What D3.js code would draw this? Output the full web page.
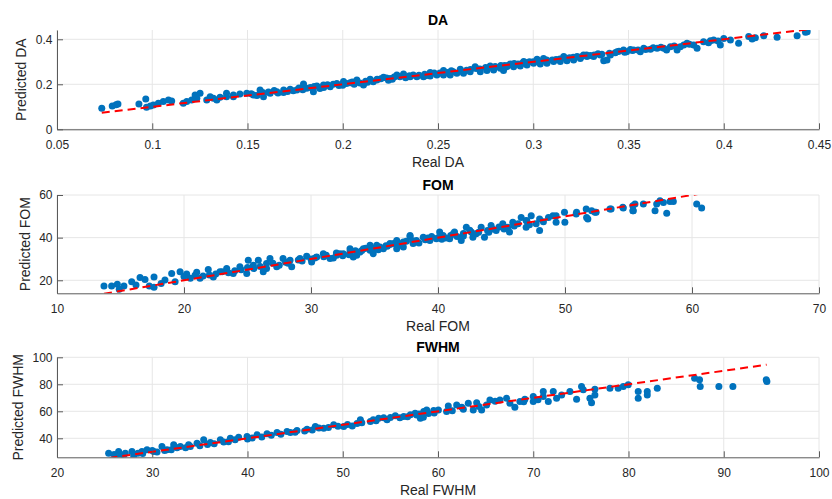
<!DOCTYPE html>
<html><head><meta charset="utf-8">
<script src="https://cdn.jsdelivr.net/npm/d3@7"></script>
<style>
body{margin:0;background:#fff}
svg text{font-family:"Liberation Sans",Arial,Helvetica,sans-serif}
</style>
</head><body>
<svg id="chart" width="832" height="499"></svg>
<script>
// ---------------- DATA ----------------
const daReal = [0.0735,0.079,0.081,0.082,0.093,0.0966,0.097,0.099,0.1006,0.1032,0.1058,0.1085,0.1102,0.1163,0.1181,0.1207,0.1225,0.1251,0.1234,0.1286,0.1304,0.1321,0.1339,0.1356,0.139,0.139,0.1426,0.1426,0.146,0.1496,
0.1531,0.1566,0.1584,0.1619,0.1654,0.1689,0.1724,0.1759,0.1794,0.1811,0.1846,0.1864,0.1899,0.1934,0.1969,0.2004,0.2039,0.2074,0.2109,0.2144,0.2179,0.2214,0.2249,0.2284,0.2319,0.2354,
0.158,0.164,0.171,0.177,0.183,0.188,0.192,0.198,0.202,0.206,0.212,0.216,0.22,0.224,0.227,0.233,0.237,
0.2389,0.2424,0.2459,0.2459,0.2494,0.2529,0.2529,0.2564,0.2599,0.2617,0.2634,0.2669,0.2695,0.2722,0.2757,0.2774,0.2792,0.2827,0.2844,0.2862,0.288,0.2897,0.2932,0.295,0.2967,0.3002,0.302,0.3037,0.3054,0.3072,0.3107,0.3142,0.316,0.3177,0.3212,0.3247,0.3264,0.3282,0.3317,0.3352,0.337,0.3387,0.3405,0.3474,0.349,0.3527,0.3562,0.358,0.3615,0.365,0.3685,0.370,0.372,0.3755,0.3772,0.379,0.3807,0.3842,0.386,0.3894,0.393,0.3947,0.3982,0.400,0.4035,0.4078,0.4131,0.4149,0.4166,0.421,0.428,0.4385,0.4429,0.4438,
0.243,0.251,0.258,0.265,0.27,0.278,0.285,0.292,0.298,0.306,0.312,0.319,0.323,0.33,0.334,0.343,0.345,0.352,
0.152,0.155,0.161,0.166,0.169,0.174,0.179,0.185,0.19,0.195,0.2,0.205,0.209,0.213,0.218,0.223,0.226,0.23,0.235,0.24,0.244,0.248,0.255,0.257,0.262,0.267,0.272,0.275,0.28,0.283,0.287,0.29,0.294,0.297,0.3,0.303,0.307,0.31,0.314,0.317,0.321,0.325,0.328,0.332,0.336,0.34,0.344,0.348,0.351,0.355,0.359,0.363,0.367,0.374,0.382,0.392,0.397];
const daPred = [0.093,0.104,0.109,0.112,0.112,0.135,0.098,0.104,0.108,0.116,0.123,0.130,0.126,0.116,0.123,0.130,0.152,0.160,0.138,0.130,0.145,0.138,0.130,0.142,0.145,0.160,0.152,0.145,0.157,0.160,
0.152,0.175,0.145,0.160,0.167,0.163,0.178,0.175,0.201,0.182,0.167,0.192,0.197,0.189,0.204,0.212,0.207,0.219,0.197,0.222,0.219,0.231,0.226,0.241,0.246,0.234,
0.163,0.172,0.168,0.183,0.186,0.181,0.198,0.195,0.203,0.2,0.214,0.211,0.225,0.218,0.232,0.229,0.241,
0.234,0.234,0.237,0.252,0.241,0.241,0.261,0.241,0.249,0.267,0.249,0.256,0.278,0.256,0.261,0.281,0.264,0.271,0.261,0.278,0.290,0.278,0.281,0.301,0.286,0.293,0.311,0.290,0.315,0.293,0.301,0.301,0.323,0.305,0.308,0.315,0.330,0.323,0.323,0.330,0.305,0.308,0.330,0.352,0.345,0.352,0.345,0.36,0.356,0.36,0.36,0.352,0.367,0.352,0.367,0.375,0.382,0.375,0.36,0.389,0.394,0.397,0.375,0.404,0.397,0.382,0.412,0.401,0.407,0.416,0.409,0.416,0.431,0.434,
0.245,0.25,0.256,0.262,0.27,0.276,0.284,0.29,0.3,0.304,0.31,0.318,0.324,0.328,0.336,0.34,0.347,0.35,
0.158,0.150,0.166,0.161,0.175,0.171,0.176,0.19,0.186,0.2,0.196,0.21,0.206,0.209,0.222,0.228,0.222,0.234,0.238,0.24,0.239,0.25,0.252,0.26,0.258,0.266,0.268,0.275,0.279,0.283,0.285,0.292,0.292,0.297,0.3,0.3,0.308,0.308,0.312,0.316,0.32,0.321,0.33,0.33,0.333,0.338,0.345,0.342,0.355,0.352,0.355,0.362,0.365,0.37,0.378,0.385,0.392];
const daLine = [0.0735, 0.4435];

const fomReal = [13.70,14.3,14.75,14.9,15.27,15.88,16.22,16.54,16.93,17.27,17.64,17.64,18.5,19.03,19.3,19.69,20.21,20.87,21.26,21.91,22.31,22.83,23.36,23.88,24.4,25.06,24.94,25.46,25.85,26.24,26.5,26.77,27.3,27.8,28.35,28.48,29.13,29.66,30.05,30.45,30.97,31.5,31.76,32.02,32.28,32.54,33.07,33.07,33.33,33.6,33.86,34.12,34.65,34.65,34.9,35.17,35.43,35.7,36.22,36.22,36.5,36.75,36.75,37.27,37.27,37.8,37.8,38.04,38.19,38.3,38.84,39.36,39.87,40.13,40.4,40.92,41.3,41.83,42.23,42.62,42.75,43.0,43.4,43.66,43.9,44.18,44.58,45.1,45.5,45.63,45.89,46.55,46.94,46.94,47.34,47.73,48.0,48.0,49.05,49.3,49.3,49.96,49.99,50.88,50.91,51.67,51.7,51.8,52.1,52.36,52.45,53.54,53.63,54.55,54.59,55.34,55.34,55.38,55.51,56.17,57.09,57.22,57.48,57.75,58.01,58.27,58.53,60.37,60.76,
20.5,22,23,24,25,26,27,28,29,30,31,32,33,34,35,36,37,38,39,40,41,42,39.5,40.6,41.5,44,44.8,46,47,
21.5,22.5,23.5,24.5,25.5,26.5,27.5,28.2,29.3,30.3,31.2,32.5,33.5,34.3,35.3,35.9,36.8,37.5,38.5,39.2,40.3,41.2,42,42.5,43.2,44.3,45.2,46.3,47.2,48.3,48.7,20,18.2,21];
const fomPred = [17.3,17.3,18.2,15.75,17.3,19.3,17.76,21.3,20.4,17.3,21.6,16.7,20.1,23.2,19.3,23.95,22.9,22.4,20.9,25.1,21.6,23.95,25.5,23.2,26.3,29.4,23.2,27.1,29.4,23.95,27.9,30.2,26.3,30.2,29.4,26.3,30.2,31.25,28.6,30.9,32.5,30.2,30.5,31.7,32.5,32.5,33.25,34.8,30.9,31.7,33.25,34.8,34.04,36.4,32.5,36.4,35.6,34.8,36.8,37.2,37.2,34.8,38.7,37.9,35.6,40.55,41.0,37.2,37.9,38.7,40.2,38.7,39.5,42.6,41.0,39.5,42.6,38.7,44.9,42.6,40.2,41.8,44.9,40.2,43.3,45.7,43.3,46.5,44.9,42.6,47.2,49.5,44.9,48.0,50.3,46.5,43.3,48.8,50.3,47.2,50.3,51.9,47.2,51.1,51.9,53.4,49.5,48.8,52.6,51.9,51.9,53.4,53.4,54.2,53.9,55.0,52.6,52.6,55.76,55.76,52.6,55.76,57.3,56.5,51.4,57.0,57.0,55.76,53.9,
21,22.5,24,24.5,26,26.5,28,28.5,29.5,30,31,32.8,32,34,35,36,37,38.5,39,40,41,42,40.5,39.8,40.5,42.5,45,45.5,47.8,
22,23,23.5,25,25.5,25.5,27,28,29,30.5,31.8,31.5,33.8,35,34.3,36.2,36,38.3,37.5,39.8,39.3,41.8,40.8,43.5,42.5,44,44,46.5,46,47.5,49.5,21.8,18.5,23.8];
const fomLine = [13.7, 60.8];

const fwhmReal = [25.42,26.47,26.65,27.17,27.87,28.05,28.92,29.45,30.15,31.02,31.55,32.25,32.95,33.82,34.7,35.4,36.1,37.15,38.2,39.07,39.95,41.0,42.05,43.1,44.15,45.2,46.25,47.12,48.0,49.05,50.1,51.0,51.85,52.9,53.77,54.65,55.52,56.4,57.1,58.15,58.5,59.55,
27,29,30.5,32,33.5,35,36.5,38,40,41.5,43.5,45,46.8,48.5,50.5,52,53.2,55,56.8,57.6,59,
26,28.5,30,31.3,32.6,34,35.8,37.5,38.7,40.5,42.5,44.5,46,47.5,49.5,51.5,53.5,54.3,56,58,59.6,61.5,62.5,64.3,66,69,70.5,
57.76,58.81,58.46,60.04,60.9,61.08,61.96,62.66,63.18,63.7,64.06,64.58,65.1,65.45,66.5,67.2,67.55,68.07,68.6,69.12,70.0,70.0,71.05,71.05,71.58,72.1,72.45,72.98,73.85,74.55,75.07,75.25,75.95,76.12,76.47,76.47,78.05,78.92,79.45,79.97,81.02,81.02,81.97,81.97,83.02,86.94,87.46,87.53,89.49,90.96,94.46,94.53];
const fwhmPred = [28.9,30.2,26.5,28.9,30.2,27.0,30.2,31.5,30.2,33.9,31.5,35.2,33.9,35.2,36.4,38.9,36.9,38.9,40.1,40.8,41.3,42.6,43.3,44.3,45.0,45.8,46.7,48.7,47.5,50.0,48.7,49.2,53.7,52.4,54.9,53.7,56.7,56.1,57.4,54.9,59.8,60.6,
27.5,28.8,29.8,31.5,33,34.5,36,37.5,39.5,41,43,44.5,46.2,48,50.3,51.5,53.8,55.5,56,58.5,58.4,
28,29,31,31,33,34,35.5,37.3,39,40.2,42.2,44.3,45.5,47.6,49,51,53,55.2,55.2,58,58.8,60.5,63,63.5,67.5,67,68.5,
57.3,61.0,55.6,61.0,59.8,64.0,64.7,61.5,66.0,61.0,66.4,61.0,64.7,68.4,68.4,69.7,66.0,63.0,67.2,69.0,67.2,70.9,74.6,70.9,67.2,74.6,69.7,72.1,74.6,69.0,78.3,75.9,69.7,66.4,76.4,72.1,77.1,77.1,78.3,79.6,74.6,69.7,74.6,72.1,77.1,84.5,83.3,78.3,78.3,78.3,83.3,82.0];
const fwhmLine = [25.5, 94.5];

const daXTicks = [0.05,0.1,0.15,0.2,0.25,0.3,0.35,0.4,0.45];
const daYTicks = [0,0.2,0.4];
const fomXTicks = [10,20,30,40,50,60,70];
const fomYTicks = [20,40,60];
const fwhmXTicks = [20,30,40,50,60,70,80,90,100];
const fwhmYTicks = [40,60,80,100];
const daXLim = [0.05,0.45], daYLim = [0,0.4413];
const fomXLim = [10,70], fomYLim = [13.9,60];
const fwhmXLim = [20,100], fwhmYLim = [25.93,100];
const titles = ["DA","FOM","FWHM"];
const xLabels = ["Real DA","Real FOM","Real FWHM"];
const yLabels = ["Predicted DA","Predicted FOM","Predicted FWHM"];

// ---------------- DRAW ----------------
const svg = d3.select("#chart");
const left = 57, right = 819;
const layout = [{top:30,bottom:129.3},{top:195,bottom:293.3},{top:357.3,bottom:457.3}];
const panels = [
  {real:daReal,pred:daPred,line:daLine,xl:daXLim,yl:daYLim,xt:daXTicks,yt:daYTicks},
  {real:fomReal,pred:fomPred,line:fomLine,xl:fomXLim,yl:fomYLim,xt:fomXTicks,yt:fomYTicks},
  {real:fwhmReal,pred:fwhmPred,line:fwhmLine,xl:fwhmXLim,yl:fwhmYLim,xt:fwhmXTicks,yt:fwhmYTicks}
];

panels.forEach((p,i)=>{
  const L = layout[i];
  const x = d3.scaleLinear().domain(p.xl).range([left,right]);
  const y = d3.scaleLinear().domain(p.yl).range([L.bottom,L.top]);
  const g = svg.append("g");

  const cid = "clip"+i;
  svg.append("clipPath").attr("id",cid).append("rect")
    .attr("x",left).attr("y",L.top).attr("width",right-left).attr("height",L.bottom-L.top);

  // grid
  g.append("g").selectAll("line").data(p.xt).join("line")
    .attr("x1",d=>x(d)).attr("x2",d=>x(d)).attr("y1",L.top).attr("y2",L.bottom)
    .attr("stroke","#e6e6e6").attr("stroke-width",1);
  g.append("g").selectAll("line").data(p.yt).join("line")
    .attr("x1",left).attr("x2",right).attr("y1",d=>y(d)).attr("y2",d=>y(d))
    .attr("stroke","#e6e6e6").attr("stroke-width",1);

  // scatter
  const pts = p.real.map((r,k)=>[r,p.pred[k]]);
  g.append("g").attr("clip-path",`url(#${cid})`).selectAll("circle").data(pts).join("circle")
    .attr("cx",d=>x(d[0])).attr("cy",d=>y(d[1])).attr("r",3.5).attr("fill","#0072BD");

  // ideal line
  g.append("line").attr("clip-path",`url(#${cid})`)
    .attr("x1",x(p.line[0])).attr("y1",y(p.line[0]))
    .attr("x2",x(p.line[1])).attr("y2",y(p.line[1]))
    .attr("stroke","#FF0000").attr("stroke-width",2).attr("stroke-dasharray","8,5");

  // axes
  const xa = g.append("g").attr("transform",`translate(0,${L.bottom})`)
    .call(d3.axisBottom(x).tickValues(p.xt).tickFormat(d=>String(d)).tickSize(-6).tickSizeOuter(0).tickPadding(11));
  const ya = g.append("g").attr("transform",`translate(${left},0)`)
    .call(d3.axisLeft(y).tickValues(p.yt).tickFormat(d=>String(d)).tickSize(-6).tickSizeOuter(0).tickPadding(4.5));
  [xa,ya].forEach(a=>{
    a.select(".domain").attr("stroke","#5a5a5a");
    a.selectAll(".tick line").attr("stroke","#5a5a5a");
    a.selectAll(".tick text").attr("fill","#262626").style("font-size","12px");
  });

  // labels
  g.append("text").attr("x",(left+right)/2).attr("y",L.top-5.5).attr("text-anchor","middle")
    .style("font-size","14px").style("font-weight","bold").attr("fill","#000").text(titles[i]);
  g.append("text").attr("x",(left+right)/2).attr("y",L.bottom+38).attr("text-anchor","middle")
    .style("font-size","14px").attr("fill","#262626").text(xLabels[i]);
  let minX = left;
  ya.selectAll(".tick text").each(function(){ const b=this.getBBox(); const ctm=this.getCTM(); minX=Math.min(minX,b.x+ctm.e); });
  const cx = minX - 14.5;
  g.append("text").attr("transform",`translate(${cx},${(L.top+L.bottom)/2}) rotate(-90)`)
    .attr("text-anchor","middle").attr("dy","0.35em")
    .style("font-size","14px").attr("fill","#262626").text(yLabels[i]);
});
</script>
</body></html>
